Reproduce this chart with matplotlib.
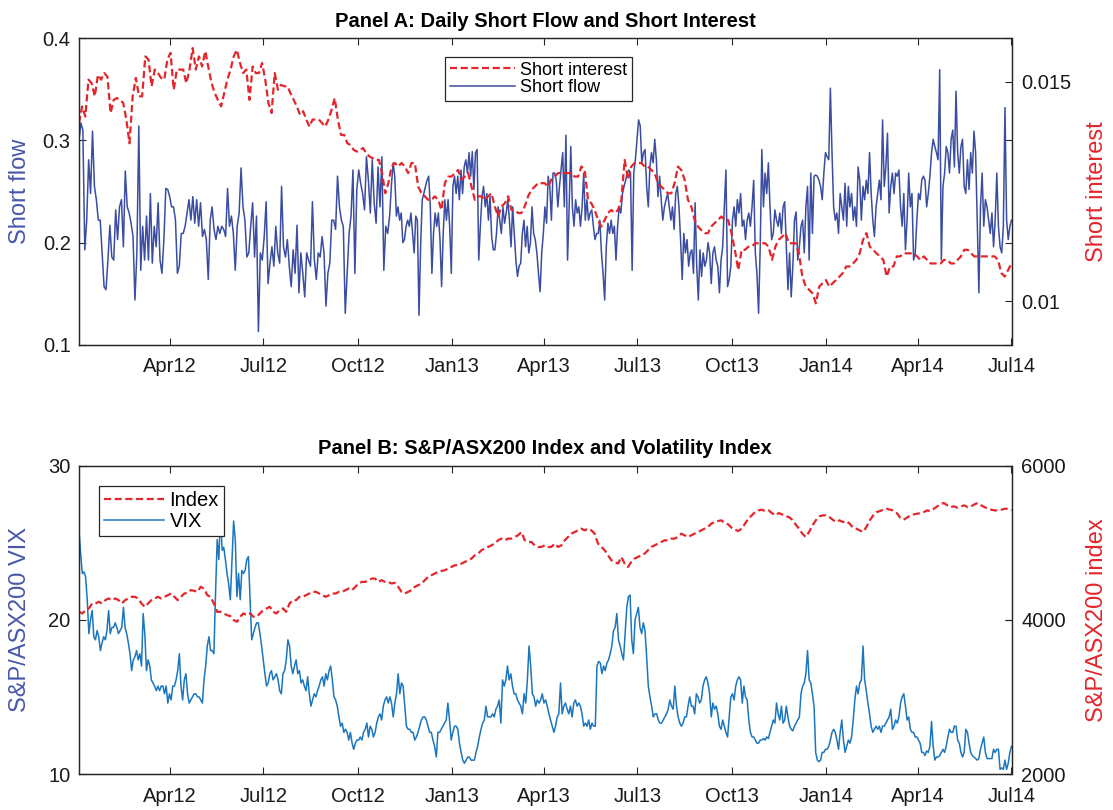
import numpy as np
import matplotlib
matplotlib.use('Agg')
import matplotlib.pyplot as plt
import matplotlib.dates as mdates

plt.rcParams['font.family'] = ['Liberation Sans', 'DejaVu Sans']

# daily series in three stretches of time
period_edges = ['2012-01-03', '2012-11-03', '2013-09-11', '2014-07-01']

short_flow_1 = [
    0.300, 0.317, 0.310, 0.193, 0.222, 0.281, 0.248, 0.309, 0.255, 0.242,
    0.222, 0.222, 0.190, 0.157, 0.154, 0.183, 0.217, 0.186, 0.183, 0.232,
    0.203, 0.235, 0.242, 0.196, 0.270, 0.235, 0.229, 0.219, 0.206, 0.144,
    0.190, 0.314, 0.173, 0.216, 0.183, 0.226, 0.183, 0.248, 0.180, 0.216,
    0.196, 0.239, 0.183, 0.170, 0.203, 0.253, 0.252, 0.245, 0.235, 0.235,
    0.222, 0.170, 0.177, 0.209, 0.209, 0.216, 0.229, 0.242, 0.222, 0.245,
    0.219, 0.242, 0.216, 0.239, 0.206, 0.213, 0.203, 0.164, 0.222, 0.235,
    0.213, 0.203, 0.216, 0.209, 0.216, 0.213, 0.206, 0.253, 0.216, 0.226,
    0.209, 0.173, 0.216, 0.229, 0.273, 0.235, 0.222, 0.186, 0.190, 0.216,
    0.239, 0.186, 0.226, 0.113, 0.190, 0.183, 0.206, 0.240, 0.160, 0.180,
    0.196, 0.177, 0.216, 0.190, 0.180, 0.255, 0.196, 0.186, 0.203, 0.177,
    0.157, 0.193, 0.170, 0.217, 0.151, 0.190, 0.170, 0.147, 0.190, 0.183,
    0.177, 0.240, 0.183, 0.164, 0.190, 0.186, 0.206, 0.190, 0.138, 0.170,
    0.180, 0.222, 0.222, 0.213, 0.265, 0.235, 0.222, 0.216, 0.131, 0.170,
    0.209, 0.226, 0.271, 0.170, 0.252, 0.271, 0.258, 0.248, 0.232, 0.284,
    0.261, 0.229, 0.281, 0.239, 0.219, 0.274, 0.235, 0.284, 0.173, 0.216,
    0.209, 0.226,
]
short_flow_2 = [
    0.258, 0.278, 0.265, 0.226, 0.235, 0.222, 0.229, 0.200, 0.203, 0.216,
    0.222, 0.216, 0.229, 0.209, 0.190, 0.226, 0.222, 0.129, 0.196, 0.242,
    0.248, 0.255, 0.261, 0.265, 0.235, 0.170, 0.209, 0.229, 0.216, 0.229,
    0.203, 0.157, 0.209, 0.242, 0.222, 0.242, 0.216, 0.170, 0.255, 0.265,
    0.248, 0.265, 0.242, 0.271, 0.248, 0.274, 0.281, 0.268, 0.288, 0.265,
    0.289, 0.252, 0.288, 0.291, 0.183, 0.216, 0.245, 0.255, 0.235, 0.248,
    0.222, 0.245, 0.206, 0.193, 0.193, 0.209, 0.235, 0.222, 0.209, 0.235,
    0.219, 0.229, 0.242, 0.222, 0.196, 0.235, 0.209, 0.183, 0.167, 0.177,
    0.180, 0.209, 0.222, 0.196, 0.216, 0.190, 0.200, 0.235, 0.209, 0.203,
    0.190, 0.170, 0.152, 0.190, 0.209, 0.235, 0.219, 0.265, 0.255, 0.222,
    0.268, 0.268, 0.261, 0.235, 0.255, 0.271, 0.288, 0.235, 0.305, 0.183,
    0.235, 0.294, 0.235, 0.216, 0.242, 0.229, 0.235, 0.216, 0.235, 0.268,
    0.222, 0.242, 0.222, 0.229, 0.232, 0.216, 0.203, 0.209, 0.209, 0.222,
    0.190, 0.170, 0.144, 0.196, 0.219, 0.209, 0.222, 0.209, 0.216, 0.183,
    0.216, 0.235, 0.229, 0.248, 0.255, 0.261, 0.268, 0.271, 0.268, 0.173,
    0.268, 0.281, 0.301, 0.320, 0.314, 0.278, 0.288, 0.291, 0.255, 0.235,
    0.274, 0.288, 0.278, 0.301, 0.281, 0.245, 0.265, 0.242, 0.222, 0.235,
    0.242, 0.248, 0.235, 0.222, 0.235, 0.213, 0.248, 0.255, 0.235, 0.203,
    0.164, 0.209, 0.190, 0.203, 0.177, 0.190, 0.193, 0.170, 0.239, 0.177,
    0.144, 0.193, 0.167, 0.190, 0.177, 0.183, 0.200, 0.190,
]
short_flow_3 = [
    0.160, 0.190, 0.196, 0.183, 0.177, 0.151, 0.183, 0.196, 0.235, 0.271,
    0.157, 0.164, 0.177, 0.222, 0.235, 0.216, 0.242, 0.229, 0.248, 0.216,
    0.222, 0.203, 0.222, 0.229, 0.216, 0.235, 0.261, 0.190, 0.170, 0.131,
    0.196, 0.291, 0.235, 0.268, 0.248, 0.278, 0.235, 0.203, 0.209, 0.232,
    0.222, 0.216, 0.229, 0.209, 0.235, 0.240, 0.196, 0.154, 0.190, 0.147,
    0.177, 0.222, 0.230, 0.183, 0.196, 0.216, 0.222, 0.190, 0.235, 0.255,
    0.183, 0.268, 0.209, 0.265, 0.266, 0.265, 0.261, 0.255, 0.242, 0.268,
    0.288, 0.284, 0.281, 0.351, 0.288, 0.235, 0.222, 0.229, 0.209, 0.248,
    0.235, 0.222, 0.258, 0.216, 0.255, 0.235, 0.248, 0.222, 0.235, 0.216,
    0.274, 0.261, 0.222, 0.255, 0.242, 0.261, 0.248, 0.288, 0.248, 0.222,
    0.206, 0.235, 0.248, 0.261, 0.242, 0.320, 0.255, 0.274, 0.307, 0.229,
    0.255, 0.268, 0.248, 0.268, 0.265, 0.271, 0.235, 0.216, 0.248, 0.193,
    0.222, 0.268, 0.235, 0.248, 0.183, 0.190, 0.222, 0.248, 0.242, 0.261,
    0.265, 0.261, 0.235, 0.248, 0.265, 0.288, 0.301, 0.294, 0.288, 0.281,
    0.369, 0.183, 0.255, 0.268, 0.294, 0.288, 0.268, 0.301, 0.310, 0.274,
    0.348, 0.288, 0.268, 0.294, 0.301, 0.255, 0.248, 0.281, 0.252, 0.288,
    0.268, 0.309, 0.288, 0.222, 0.151, 0.235, 0.268, 0.216, 0.242, 0.235,
    0.222, 0.209, 0.229, 0.196, 0.222, 0.268, 0.216, 0.196, 0.190, 0.216,
    0.332, 0.222, 0.203, 0.216, 0.222,
]

short_interest_1 = [
    0.01406, 0.01444, 0.01421, 0.01505, 0.01497, 0.01467, 0.01516, 0.01505, 0.01520, 0.01512,
    0.01429, 0.01459, 0.01463, 0.01459, 0.01452, 0.01414, 0.01360, 0.01467, 0.01509, 0.01467,
    0.01467, 0.01558, 0.01551, 0.01490, 0.01528, 0.01520, 0.01509, 0.01505, 0.01551, 0.01566,
    0.01482, 0.01528, 0.01528, 0.01528, 0.01497, 0.01528, 0.01577, 0.01528, 0.01558, 0.01535,
    0.01570, 0.01532, 0.01497, 0.01474, 0.01459, 0.01444, 0.01474, 0.01505, 0.01528, 0.01558,
    0.01573, 0.01543, 0.01520, 0.01528, 0.01459, 0.01535, 0.01520, 0.01520, 0.01543, 0.01505,
    0.01452, 0.01429, 0.01520, 0.01482, 0.01493, 0.01490, 0.01490, 0.01474, 0.01459, 0.01444,
    0.01425, 0.01433, 0.01414, 0.01398, 0.01414, 0.01414, 0.01414, 0.01406, 0.01398, 0.01414,
    0.01436, 0.01463, 0.01414, 0.01379, 0.01379, 0.01360, 0.01356, 0.01345, 0.01341, 0.01345,
    0.01349, 0.01337, 0.01330, 0.01326, 0.01322, 0.01322, 0.01292, 0.01246, 0.01269,
]
short_interest_2 = [
    0.01307, 0.01315, 0.01307, 0.01315, 0.01307, 0.01292, 0.01315, 0.01315, 0.01261, 0.01246,
    0.01239, 0.01231, 0.01231, 0.01239, 0.01231, 0.01208, 0.01269, 0.01284, 0.01284, 0.01292,
    0.01299, 0.01277, 0.01284, 0.01292, 0.01261, 0.01231, 0.01239, 0.01239, 0.01231, 0.01239,
    0.01246, 0.01216, 0.01193, 0.01216, 0.01223, 0.01239, 0.01208, 0.01208, 0.01201, 0.01201,
    0.01216, 0.01239, 0.01254, 0.01261, 0.01269, 0.01269, 0.01269, 0.01261, 0.01277, 0.01284,
    0.01292, 0.01292, 0.01292, 0.01292, 0.01292, 0.01284, 0.01284, 0.01307, 0.01299, 0.01231,
    0.01223, 0.01208, 0.01185, 0.01170, 0.01185, 0.01201, 0.01208, 0.01201, 0.01208, 0.01231,
    0.01322, 0.01277, 0.01307, 0.01315, 0.01315, 0.01315, 0.01307, 0.01307, 0.01299, 0.01292,
    0.01269, 0.01261, 0.01254, 0.01246, 0.01246, 0.01269, 0.01307, 0.01299, 0.01277, 0.01231,
    0.01216, 0.01185, 0.01170, 0.01162, 0.01155, 0.01155,
]
short_interest_3 = [
    0.01170, 0.01178, 0.01185, 0.01193, 0.01185, 0.01185, 0.01155, 0.01117, 0.01071, 0.01117,
    0.01117, 0.01124, 0.01124, 0.01132, 0.01132, 0.01132, 0.01132, 0.01124, 0.01094, 0.01124,
    0.01140, 0.01147, 0.01155, 0.01132, 0.01132, 0.01132, 0.01109, 0.01056, 0.01033, 0.01026,
    0.01018, 0.00995, 0.01033, 0.01041, 0.01048, 0.01033, 0.01041, 0.01048, 0.01056, 0.01064,
    0.01079, 0.01079, 0.01086, 0.01094, 0.01109, 0.01140, 0.01155, 0.01124, 0.01117, 0.01109,
    0.01102, 0.01094, 0.01056, 0.01079, 0.01079, 0.01102, 0.01102, 0.01109, 0.01109, 0.01109,
    0.01109, 0.01102, 0.01094, 0.01102, 0.01094, 0.01086, 0.01086, 0.01086, 0.01086, 0.01094,
    0.01094, 0.01086, 0.01086, 0.01094, 0.01102, 0.01117, 0.01117, 0.01109, 0.01102, 0.01102,
    0.01102, 0.01102, 0.01102, 0.01102, 0.01102, 0.01094, 0.01064, 0.01056, 0.01071, 0.01086,
]

vix_1 = [
    25.8, 24.3, 23.0, 23.1, 22.8, 21.3, 19.1, 20.0, 20.6, 18.9,
    18.7, 19.3, 18.9, 18.0, 18.5, 18.9, 18.7, 19.3, 20.6, 19.1,
    19.5, 19.5, 19.8, 19.5, 19.1, 19.3, 19.5, 20.8, 19.5, 19.1,
    18.5, 17.8, 16.7, 17.4, 17.6, 18.0, 17.4, 17.8, 17.0, 20.4,
    19.1, 16.7, 17.4, 17.0, 16.1, 15.9, 15.7, 15.4, 15.7, 15.4,
    15.7, 15.7, 15.2, 15.7, 14.6, 15.2, 14.8, 15.7, 15.7, 16.1,
    16.7, 17.8, 15.7, 14.8, 16.1, 16.5, 15.2, 14.6, 14.8, 15.0,
    15.2, 15.2, 15.0, 15.0, 14.8, 14.6, 16.1, 17.0, 18.3, 18.9,
    18.0, 18.0, 17.8, 21.7, 25.2, 23.9, 26.9, 24.5, 24.7, 23.9,
    23.0, 22.3, 21.3, 23.9, 26.4, 25.2, 21.5, 23.0, 21.3, 23.2,
    23.0, 23.2, 23.9, 24.1, 21.3, 18.7, 19.1, 19.5, 19.8, 19.8,
    19.1, 18.3, 17.4, 16.5, 15.7, 15.9, 16.5, 16.7, 16.1, 16.3,
    16.5, 16.1, 15.4, 15.2, 16.5, 16.7, 17.4, 18.7, 18.3, 17.0,
    16.5, 17.0, 17.4, 16.5, 16.7, 15.9, 16.1, 15.7, 15.4, 16.3,
    15.2, 14.4, 14.8, 15.2, 15.0, 15.4, 15.7, 16.1, 16.3, 15.7,
    16.5, 16.1, 16.7, 17.0, 16.1, 15.0, 14.8, 14.4, 13.7, 13.1,
    13.3, 12.7, 12.9, 12.7, 12.2, 12.7, 12.0, 11.6, 12.0, 12.2,
    12.2, 12.4, 12.2, 12.7, 12.9, 13.3, 12.4, 13.1, 12.9, 12.4,
    12.7, 13.3, 13.7, 13.9, 13.5, 14.4, 14.8, 15.0, 14.6, 15.0,
]
vix_2 = [
    14.6, 13.7, 14.6, 15.2, 16.5, 15.2, 15.9, 15.7, 14.4, 13.1,
    12.9, 12.9, 12.7, 12.7, 12.2, 12.4, 12.7, 13.1, 13.5, 13.7,
    13.7, 13.5, 13.1, 12.7, 12.7, 12.2, 11.8, 11.1, 12.7, 12.7,
    12.9, 13.1, 13.3, 13.5, 14.6, 13.5, 12.2, 12.7, 13.1, 13.1,
    12.9, 12.0, 11.4, 10.9, 10.7, 10.9, 11.1, 11.1, 10.9, 10.9,
    10.9, 11.4, 11.8, 12.4, 12.9, 13.3, 13.5, 14.4, 13.7, 13.7,
    13.7, 13.9, 13.7, 14.2, 14.4, 14.8, 13.3, 16.1, 15.7, 16.1,
    17.0, 16.1, 16.5, 15.7, 15.2, 15.2, 14.8, 14.6, 14.4, 13.9,
    15.2, 14.6, 16.1, 18.3, 17.0, 15.2, 15.0, 14.4, 14.8, 14.6,
    14.8, 15.2, 14.6, 14.8, 14.4, 13.9, 13.5, 13.1, 12.7, 13.1,
    13.7, 13.9, 15.9, 13.9, 14.4, 14.6, 14.2, 13.9, 14.4, 13.7,
    14.6, 14.8, 14.4, 14.6, 14.4, 13.9, 13.1, 13.3, 13.1, 13.5,
    12.9, 13.3, 13.1, 13.1, 17.0, 17.3, 17.2, 16.5, 17.0, 16.7,
    17.2, 17.4, 17.8, 18.3, 19.3, 19.5, 20.4, 18.7, 18.3, 17.8,
    17.4, 19.1, 20.8, 21.5, 21.6, 18.7, 17.8, 20.0, 20.4, 20.8,
    19.5, 19.1, 19.8, 19.3, 17.6, 15.7, 15.0, 14.4, 13.7, 13.9,
    13.9, 13.5, 13.3, 13.3, 13.5, 13.7, 13.9, 14.2, 14.8, 14.4,
    14.2, 15.7, 14.4, 13.7, 13.3, 13.1, 13.3, 13.7, 13.7, 14.4,
    15.0, 14.4, 14.4, 13.9, 15.2, 15.0, 14.6, 14.8, 15.7, 16.1,
    16.3, 15.9, 15.2,
]
vix_3 = [
    13.7, 14.6, 14.2, 14.4, 13.9, 13.1, 12.9, 13.5, 13.1, 12.7,
    12.4, 13.7, 15.0, 15.2, 14.8, 15.7, 16.1, 16.3, 16.1, 14.6,
    15.7, 15.0, 14.8, 13.5, 12.7, 12.4, 12.4, 12.2, 12.0, 12.0,
    12.2, 12.2, 12.3, 12.2, 12.4, 12.3, 12.7, 13.1, 13.5, 13.3,
    14.6, 13.9, 13.5, 14.4, 13.3, 13.5, 14.4, 13.7, 13.1, 12.9,
    12.8, 13.1, 13.3, 13.5, 13.7, 15.2, 15.7, 15.9, 16.5, 18.0,
    16.1, 15.9, 15.2, 14.4, 11.4, 10.9, 10.8, 10.9, 11.4, 11.4,
    11.6, 11.6, 11.8, 12.2, 12.7, 12.9, 12.7, 12.2, 11.6, 12.7,
    13.5, 12.2, 11.4, 11.8, 12.2, 12.0, 12.4, 13.5, 14.8, 15.7,
    15.2, 15.9, 16.1, 18.3, 16.1, 15.4, 14.6, 13.9, 13.1, 12.7,
    12.9, 13.1, 12.9, 13.1, 12.7, 13.1, 13.1, 13.3, 13.5, 13.7,
    14.2, 12.9, 13.1, 13.5, 13.3, 13.7, 14.6, 15.0, 15.2, 14.4,
    13.5, 13.7, 12.9, 12.7, 12.7, 12.4, 12.4, 12.2, 12.0, 11.4,
    11.4, 11.2, 11.5, 11.4, 11.8, 13.4, 11.8, 10.9, 11.1, 11.1,
    11.2, 11.4, 11.6, 11.4, 11.8, 12.4, 12.9, 12.7, 12.7, 13.1,
    13.1, 12.2, 12.0, 11.4, 11.1, 11.4, 12.9, 12.7, 12.0, 11.4,
    11.2, 11.1, 11.0, 10.9, 11.0, 11.6, 12.0, 12.4, 11.4, 11.0,
    11.0, 11.0, 11.0, 11.6, 11.4, 11.6, 11.6, 10.3, 10.4, 10.3,
    10.9, 10.3, 10.7, 11.4, 11.8,
]

index_1 = [
    4103, 4082, 4125, 4147, 4211, 4211, 4233, 4211, 4254, 4276,
    4254, 4276, 4254, 4211, 4254, 4276, 4297, 4297, 4276, 4211,
    4168, 4211, 4254, 4276, 4297, 4276, 4297, 4319, 4340, 4297,
    4254, 4297, 4340, 4349, 4384, 4375, 4362, 4427, 4405, 4319,
    4297, 4211, 4103, 4103, 4082, 4060, 4047, 3996, 3974, 4039,
    4082, 4060, 4082, 4039, 4039, 4082, 4125, 4147, 4168, 4103,
    4082, 4125, 4147, 4103, 4211, 4254, 4254, 4297, 4297, 4319,
    4340, 4362, 4362, 4340, 4319, 4297, 4319, 4340, 4340, 4362,
    4362, 4384, 4405, 4384, 4427, 4470, 4491, 4491, 4513, 4534,
    4534, 4491, 4513, 4491, 4491,
]
index_2 = [
    4470, 4478, 4427, 4362, 4340, 4362, 4384, 4427, 4448, 4470,
    4513, 4556, 4577, 4599, 4621, 4633, 4642, 4664, 4685, 4707,
    4707, 4728, 4750, 4771, 4793, 4836, 4858, 4901, 4922, 4944,
    4965, 4987, 5030, 5052, 5030, 5052, 5052, 5073, 5095, 5138,
    5030, 5008, 5008, 4965, 4944, 4944, 4965, 4944, 4944, 4987,
    4944, 4965, 5030, 5073, 5116, 5138, 5159, 5181, 5159, 5181,
    5159, 5116, 4987, 4944, 4901, 4836, 4771, 4750, 4728, 4814,
    4728, 4685, 4750, 4793, 4814, 4836, 4858, 4901, 4944, 4965,
    4987, 5008, 5030, 5030, 5052, 5052, 5073, 5116, 5095, 5073,
    5095, 5116, 5138, 5159, 5181, 5203,
]
index_3 = [
    5246, 5267, 5280, 5289, 5254, 5237, 5194, 5168, 5151, 5181,
    5246, 5310, 5353, 5396, 5418, 5427, 5409, 5418, 5383, 5353,
    5383, 5366, 5340, 5332, 5297, 5237, 5181, 5116, 5073, 5138,
    5224, 5289, 5340, 5353, 5353, 5332, 5297, 5267, 5289, 5267,
    5280, 5246, 5194, 5181, 5159, 5138, 5203, 5289, 5353, 5396,
    5409, 5427, 5439, 5427, 5418, 5383, 5323, 5297, 5323, 5353,
    5366, 5375, 5383, 5396, 5418, 5409, 5439, 5470, 5504, 5513,
    5483, 5461, 5470, 5452, 5470, 5483, 5461, 5470, 5496, 5513,
    5483, 5461, 5439, 5427, 5418, 5418, 5427, 5439, 5439, 5418,
]

flow_color = '#3A4DA1'
red = '#E3262B'
vix_color = '#1B76BE'
left_label = '#4757AA'
spine_color = '#262626'


def spread(parts):
    # each stretch of readings is laid evenly over its own dates
    edges = mdates.datestr2num(period_edges)
    xs = []
    for i, part in enumerate(parts):
        last = i == len(parts) - 1
        xs.append(np.linspace(edges[i], edges[i + 1], len(part), endpoint=last))
    return np.concatenate(xs), np.concatenate(parts)


def style(ax, ax2):
    for a in (ax, ax2):
        for s in a.spines.values():
            s.set_color(spine_color)
            s.set_linewidth(0.9)
    ax.tick_params(direction='in', length=5, width=0.8, labelsize=14.5,
                   top=True, right=True, colors=spine_color, labelcolor='#1a1a1a')
    ax.tick_params(axis='y', pad=6)
    ax.tick_params(axis='x', pad=9)
    ax2.tick_params(direction='in', length=5, width=0.8, labelsize=14.5,
                    pad=7, colors=spine_color, labelcolor='#1a1a1a')
    ax.set_xlim(mdates.datestr2num('2012-01-03'), mdates.datestr2num('2014-07-01'))
    ax.xaxis.set_major_locator(mdates.MonthLocator(bymonth=[1, 4, 7, 10]))
    ax.xaxis.set_major_formatter(mdates.DateFormatter('%b%y'))


fig = plt.figure(figsize=(11.13, 8.10), dpi=100)
W, H = 1113, 810

# Panel A
axA = fig.add_axes([79 / W, 1 - 345 / H, 932.5 / W, 307 / H])
axA2 = axA.twinx()
x, y = spread([short_flow_1, short_flow_2, short_flow_3])
l_sf, = axA.plot(x, y, color=flow_color, lw=1.1)
x, y = spread([short_interest_1, short_interest_2, short_interest_3])
l_si, = axA2.plot(x, y, color=red, lw=1.6, ls=(0, (3.2, 1.6)))
axA.set_ylim(0.1, 0.4)
axA.set_yticks([0.1, 0.2, 0.3, 0.4], ['0.1', '0.2', '0.3', '0.4'])
axA2.set_ylim(0.009, 0.016)
axA2.set_yticks([0.01, 0.015], ['0.01', '0.015'])
style(axA, axA2)
axA.set_title('Panel A: Daily Short Flow and Short Interest', fontsize=14.5,
              fontweight='bold', pad=8)
axA.set_ylabel('Short flow', color=left_label, fontsize=17)
axA.yaxis.set_label_coords(-0.051, 0.5)
axA2.set_ylabel('Short interest', color=red, fontsize=17)
axA2.yaxis.set_label_coords(1.08, 0.5)
legA = axA2.legend([l_si, l_sf], ['Short interest', 'Short flow'], loc='upper left',
                   bbox_to_anchor=(445 / W, 1 - 57 / H), bbox_transform=fig.transFigure,
                   fontsize=13, fancybox=False, framealpha=1, edgecolor=spine_color,
                   borderpad=0.25, handlelength=3.6, handletextpad=0.3,
                   labelspacing=0.05, borderaxespad=0)
legA.get_frame().set_linewidth(0.9)

# Panel B
axB = fig.add_axes([79 / W, 1 - 774 / H, 932.5 / W, 308.5 / H])
axB2 = axB.twinx()
x, y = spread([vix_1, vix_2, vix_3])
l_vix, = axB.plot(x, y, color=vix_color, lw=1.1)
x, y = spread([index_1, index_2, index_3])
l_idx, = axB2.plot(x, y, color=red, lw=1.6, ls=(0, (3.2, 1.6)))
axB.set_ylim(10, 30)
axB.set_yticks([10, 20, 30])
axB2.set_ylim(2000, 6000)
axB2.set_yticks([2000, 4000, 6000])
style(axB, axB2)
axB.set_title('Panel B: S&P/ASX200 Index and Volatility Index', fontsize=14.5,
              fontweight='bold', pad=8)
axB.set_ylabel('S&P/ASX200 VIX', color=left_label, fontsize=17)
axB.yaxis.set_label_coords(-0.051, 0.5)
axB2.set_ylabel('S&P/ASX200 index', color=red, fontsize=17)
axB2.yaxis.set_label_coords(1.08, 0.5)
legB = axB2.legend([l_idx, l_vix], ['Index', 'VIX'], loc='upper left',
                   bbox_to_anchor=(99 / W, 1 - 486 / H), bbox_transform=fig.transFigure,
                   fontsize=14.5, fancybox=False, framealpha=1, edgecolor=spine_color,
                   borderpad=0.25, handlelength=3.0, handletextpad=0.25,
                   labelspacing=0.1, borderaxespad=0)
legB.get_frame().set_linewidth(0.9)

fig.savefig('out.png', dpi=100)
